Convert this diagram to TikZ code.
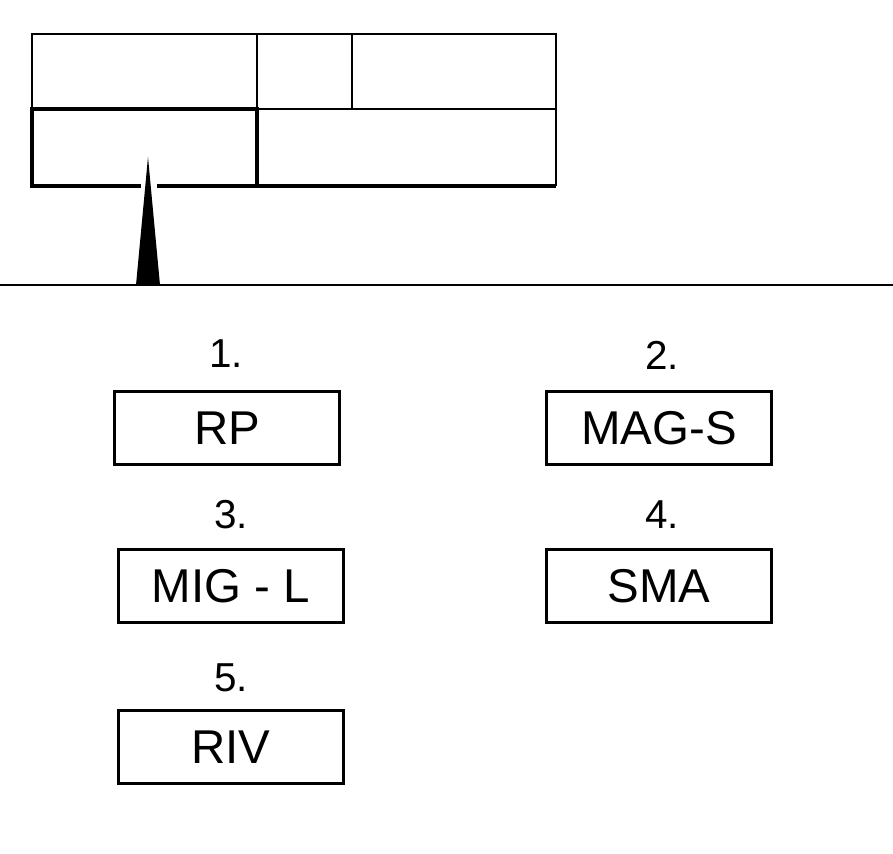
\documentclass[tikz,border=0pt]{standalone}
\usepackage{fontspec}
\setmainfont{Liberation Sans}
\begin{document}
\begin{tikzpicture}[x=0.02cm, y=-0.02cm,
    box/.style={draw, line width=1.8pt, minimum width=4.5cm, minimum height=1.45cm, inner sep=0pt, font=\fontsize{27}{30}\selectfont},
    num/.style={inner sep=0pt, font=\fontsize{23}{26}\selectfont}]
\useasboundingbox (0,0) rectangle (893,854);
% block at the top
\draw[line width=1.1pt] (32,109)--(32,34)--(556,34)--(556,186);
\draw[line width=1.1pt] (257,109)--(556,109);
\draw[line width=1.1pt] (257,34)--(257,109) (352,34)--(352,109);
\draw[line width=2.6pt] (141,186)--(32,186)--(32,109)--(257,109)--(257,186);
\draw[line width=2.6pt] (157,186)--(556,186);
\fill (136,285)--(148,157)--(160,285)--cycle;
\draw[line width=1.1pt] (0,285)--(893,285);

\node[box] (rp) at (227,428){RP};
\node[box] (mags) at (659,428){MAG-S};
\node[box] (migl) at (231,586){MIG - L};
\node[box] (sma) at (659,586){SMA};
\node[box] (riv) at (231,747){RIV};

\node[num] (n1) at (226,354){1.};
\node[num] (n2) at (662,355){2.};
\node[num] (n3) at (231,515){3.};
\node[num] (n4) at (662,515){4.};
\node[num] (n5) at (231,678){5.};

\end{tikzpicture}
\end{document}
